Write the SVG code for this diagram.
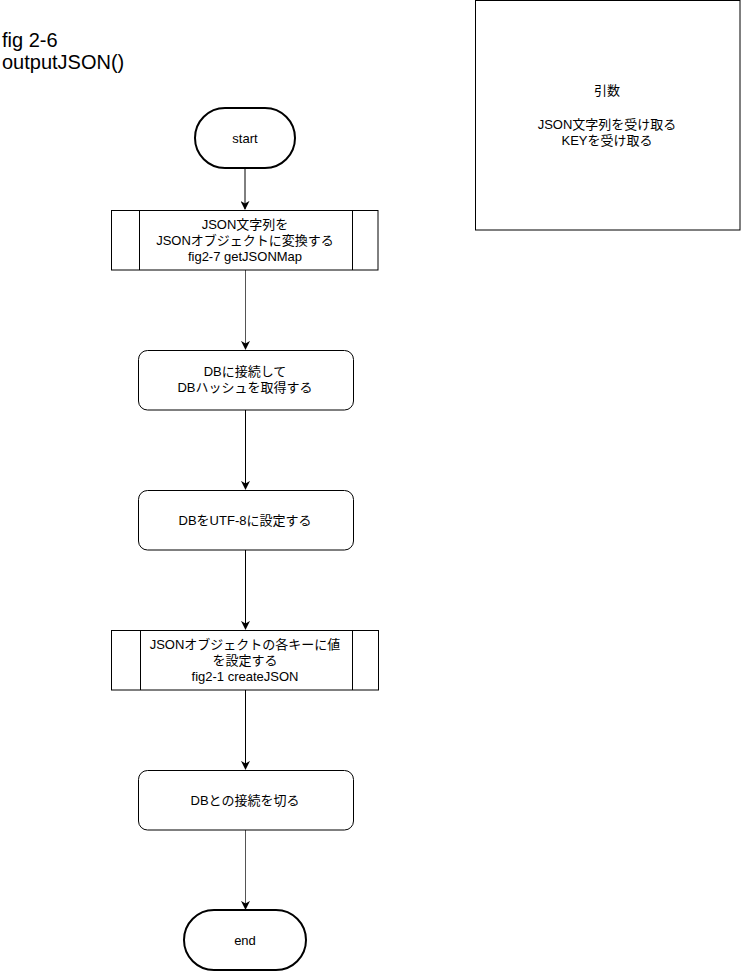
<svg xmlns="http://www.w3.org/2000/svg" width="741" height="972" viewBox="0 0 741 972">
<style>
text{font-family:"Liberation Sans","Noto Sans CJK JP",sans-serif;font-size:13px;fill:#000;text-anchor:middle}
.title{font-size:20px;text-anchor:start}
.term{fill:#fff;stroke:#000;stroke-width:2}
.box{fill:#fff;stroke:#000;stroke-width:1}
.edge{fill:none;stroke:#000;stroke-width:1}
.grey{stroke:#555}
</style>
<defs>
<marker id="ah" viewBox="0 0 10 10" refX="9" refY="5" markerWidth="9" markerHeight="9" markerUnits="userSpaceOnUse" orient="auto">
<path d="M0,0 L10,5 L0,10 L3,5 Z" fill="#000"/>
</marker>
</defs>
<rect width="741" height="972" fill="#fff"/>
<g id="title">
<text class="title" x="2" y="47">fig 2-6</text>
<text class="title" x="2" y="69">outputJSON()</text>
</g>
<g id="note">
<rect class="box" x="475.5" y="0.5" width="264.5" height="229.5"/>
<text x="607" y="95">引数</text>
<text x="607" y="129">JSON文字列を受け取る</text>
<text x="607" y="145">KEYを受け取る</text>
</g>
<g id="connectors">
<path class="edge" d="M245,168 V209" marker-end="url(#ah)"/>
<path class="edge grey" d="M245.5,270 V349" marker-end="url(#ah)"/>
<path class="edge" d="M245.5,410 V489" marker-end="url(#ah)"/>
<path class="edge" d="M245.5,550 V629" marker-end="url(#ah)"/>
<path class="edge" d="M245.5,690 V769" marker-end="url(#ah)"/>
<path class="edge grey" d="M245.5,830 V909" marker-end="url(#ah)"/>
</g>
<g id="start">
<rect class="term" x="195" y="108" width="100" height="60" rx="30" ry="30"/>
<text x="245" y="143">start</text>
</g>
<g id="convert">
<rect class="box" x="111.5" y="210.5" width="266.5" height="59.5"/>
<line class="edge" x1="139.5" y1="210.5" x2="139.5" y2="270"/>
<line class="edge" x1="352.5" y1="210.5" x2="352.5" y2="270"/>
<text x="245" y="229">JSON文字列を</text>
<text x="245" y="245">JSONオブジェクトに変換する</text>
<text x="245" y="261">fig2-7 getJSONMap</text>
</g>
<g id="connect">
<rect class="box" x="138.5" y="350.5" width="215" height="59.5" rx="9" ry="9"/>
<text x="245" y="376">DBに接続して</text>
<text x="245" y="392">DBハッシュを取得する</text>
</g>
<g id="utf8">
<rect class="box" x="138.5" y="490.5" width="215" height="59.5" rx="9" ry="9"/>
<text x="245" y="525">DBをUTF-8に設定する</text>
</g>
<g id="setkeys">
<rect class="box" x="111.5" y="630.5" width="267" height="59.5"/>
<line class="edge" x1="140.5" y1="630.5" x2="140.5" y2="690"/>
<line class="edge" x1="352.5" y1="630.5" x2="352.5" y2="690"/>
<text x="245" y="649">JSONオブジェクトの各キーに値</text>
<text x="245" y="665">を設定する</text>
<text x="245" y="681">fig2-1 createJSON</text>
</g>
<g id="disconnect">
<rect class="box" x="138.5" y="770.5" width="215" height="59.5" rx="9" ry="9"/>
<text x="245" y="805">DBとの接続を切る</text>
</g>
<g id="end">
<rect class="term" x="184" y="910" width="122" height="60" rx="30" ry="30"/>
<text x="245" y="945">end</text>
</g>
</svg>
